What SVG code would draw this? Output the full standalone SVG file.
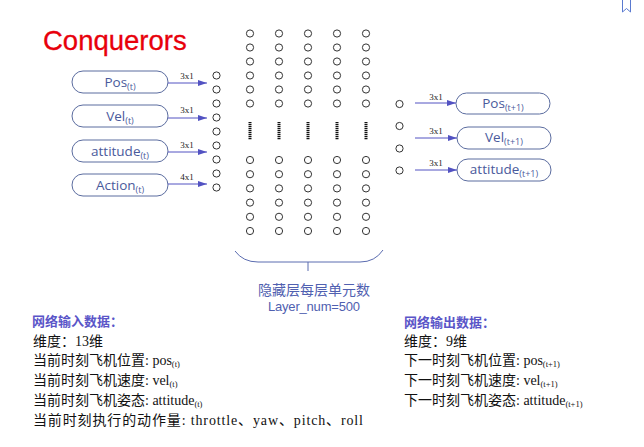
<svg xmlns="http://www.w3.org/2000/svg" width="644" height="447" viewBox="0 0 644 447">
<style>
.box{fill:#fff;stroke:#5b6c9f;stroke-width:1}
.bt{font-family:"Open Sans","Noto Sans",sans-serif;font-size:13.5px;fill:#4a5a9c;text-anchor:middle}
.sub{font-size:9px}
.arr{stroke:#5252c2;stroke-width:1;fill:none;marker-end:url(#ah)}
.dim{font-family:"Liberation Serif",serif;font-size:9px;fill:#222;text-anchor:middle}
.n{fill:#fff;stroke:#333;stroke-width:1}
.dash{stroke:#111;stroke-width:3;stroke-dasharray:1.2 0.8}
.hd{font-family:"Liberation Serif","Noto Sans CJK SC",sans-serif;font-size:13px;font-weight:bold;fill:#5a55c8}
.tx{font-family:"Liberation Serif","Noto Sans CJK SC",serif;font-size:14px;fill:#111}
.ts{font-size:8.5px}
</style>
<defs>
<marker id="ah" markerWidth="9" markerHeight="6" refX="9" refY="3" orient="auto" markerUnits="userSpaceOnUse">
<path d="M0,0 L9,3 L0,6 Z" fill="#5252c2"/>
</marker>
</defs>
<rect width="644" height="447" fill="#fff"/>
<path d="M622.5,0 V12 L626.5,8.5 L630.5,12 V0" fill="none" stroke="#5a7ad0" stroke-width="1"/>
<text x="43" y="50" font-family="Liberation Sans,Arial,sans-serif" font-size="27.5px" fill="#e8000b" stroke="#e8000b" stroke-width="0.3">Conquerors</text>

<g id="in-pos"><rect class="box" x="72" y="71" width="96" height="22" rx="11"/><text class="bt" x="120" y="87">Pos<tspan class="sub" dy="3">(t)</tspan></text></g>
<g id="in-vel"><rect class="box" x="72" y="105" width="96" height="22" rx="11"/><text class="bt" x="120" y="121">Vel<tspan class="sub" dy="3">(t)</tspan></text></g>
<g id="in-att"><rect class="box" x="72" y="140" width="96" height="22" rx="11"/><text class="bt" x="120" y="156">attitude<tspan class="sub" dy="3">(t)</tspan></text></g>
<g id="in-act"><rect class="box" x="72" y="174" width="96" height="22" rx="11"/><text class="bt" x="120" y="190">Action<tspan class="sub" dy="3">(t)</tspan></text></g>

<g id="out-pos"><rect class="box" x="456" y="93" width="94" height="21" rx="10.5"/><text class="bt" x="503" y="108">Pos<tspan class="sub" dy="3">(t+1)</tspan></text></g>
<g id="out-vel"><rect class="box" x="457" y="127" width="94" height="22" rx="11"/><text class="bt" x="504" y="142">Vel<tspan class="sub" dy="3">(t+1)</tspan></text></g>
<g id="out-att"><rect class="box" x="457" y="159" width="94" height="22" rx="11"/><text class="bt" x="504" y="174">attitude<tspan class="sub" dy="3">(t+1)</tspan></text></g>

<g id="connectors">
<line class="arr" x1="168" y1="83" x2="207" y2="83"/>
<line class="arr" x1="168" y1="118" x2="207" y2="118"/>
<line class="arr" x1="168" y1="152" x2="207" y2="152"/>
<line class="arr" x1="168" y1="184" x2="207" y2="184"/>
<line class="arr" x1="415" y1="103" x2="456" y2="103"/>
<line class="arr" x1="415" y1="138" x2="457" y2="138"/>
<line class="arr" x1="415" y1="170" x2="457" y2="170"/>
<text class="dim" x="187" y="79">3x1</text>
<text class="dim" x="187" y="113">3x1</text>
<text class="dim" x="187" y="148">3x1</text>
<text class="dim" x="187" y="180">4x1</text>
<text class="dim" x="436" y="100">3x1</text>
<text class="dim" x="436" y="134">3x1</text>
<text class="dim" x="436" y="166">3x1</text>
</g>

<g id="input-layer">
<circle class="n" cx="216.5" cy="75.5" r="3.6"/><circle class="n" cx="216.5" cy="89.5" r="3.6"/><circle class="n" cx="216.5" cy="103.5" r="3.6"/>
<circle class="n" cx="216.5" cy="117.5" r="3.6"/><circle class="n" cx="216.5" cy="131.5" r="3.6"/><circle class="n" cx="216.5" cy="145.5" r="3.6"/>
<circle class="n" cx="216.5" cy="159.5" r="3.6"/><circle class="n" cx="216.5" cy="173.5" r="3.6"/><circle class="n" cx="216.5" cy="187.5" r="3.6"/>
</g>

<g id="hidden-layers">
<g id="h1">
<circle class="n" cx="250" cy="33.5" r="3.6"/><circle class="n" cx="250" cy="47.5" r="3.6"/><circle class="n" cx="250" cy="61.5" r="3.6"/><circle class="n" cx="250" cy="75.5" r="3.6"/><circle class="n" cx="250" cy="89.5" r="3.6"/><circle class="n" cx="250" cy="103.5" r="3.6"/>
<line class="dash" x1="250" y1="122" x2="250" y2="140"/>
<circle class="n" cx="250" cy="160" r="3.6"/><circle class="n" cx="250" cy="174.2" r="3.6"/><circle class="n" cx="250" cy="188.4" r="3.6"/><circle class="n" cx="250" cy="202.6" r="3.6"/><circle class="n" cx="250" cy="216.8" r="3.6"/><circle class="n" cx="250" cy="231" r="3.6"/>
</g>
<g id="h2">
<circle class="n" cx="279" cy="33.5" r="3.6"/><circle class="n" cx="279" cy="47.5" r="3.6"/><circle class="n" cx="279" cy="61.5" r="3.6"/><circle class="n" cx="279" cy="75.5" r="3.6"/><circle class="n" cx="279" cy="89.5" r="3.6"/><circle class="n" cx="279" cy="103.5" r="3.6"/>
<line class="dash" x1="279" y1="122" x2="279" y2="140"/>
<circle class="n" cx="279" cy="160" r="3.6"/><circle class="n" cx="279" cy="174.2" r="3.6"/><circle class="n" cx="279" cy="188.4" r="3.6"/><circle class="n" cx="279" cy="202.6" r="3.6"/><circle class="n" cx="279" cy="216.8" r="3.6"/><circle class="n" cx="279" cy="231" r="3.6"/>
</g>
<g id="h3">
<circle class="n" cx="308" cy="33.5" r="3.6"/><circle class="n" cx="308" cy="47.5" r="3.6"/><circle class="n" cx="308" cy="61.5" r="3.6"/><circle class="n" cx="308" cy="75.5" r="3.6"/><circle class="n" cx="308" cy="89.5" r="3.6"/><circle class="n" cx="308" cy="103.5" r="3.6"/>
<line class="dash" x1="308" y1="122" x2="308" y2="140"/>
<circle class="n" cx="308" cy="160" r="3.6"/><circle class="n" cx="308" cy="174.2" r="3.6"/><circle class="n" cx="308" cy="188.4" r="3.6"/><circle class="n" cx="308" cy="202.6" r="3.6"/><circle class="n" cx="308" cy="216.8" r="3.6"/><circle class="n" cx="308" cy="231" r="3.6"/>
</g>
<g id="h4">
<circle class="n" cx="337" cy="33.5" r="3.6"/><circle class="n" cx="337" cy="47.5" r="3.6"/><circle class="n" cx="337" cy="61.5" r="3.6"/><circle class="n" cx="337" cy="75.5" r="3.6"/><circle class="n" cx="337" cy="89.5" r="3.6"/><circle class="n" cx="337" cy="103.5" r="3.6"/>
<line class="dash" x1="337" y1="122" x2="337" y2="140"/>
<circle class="n" cx="337" cy="160" r="3.6"/><circle class="n" cx="337" cy="174.2" r="3.6"/><circle class="n" cx="337" cy="188.4" r="3.6"/><circle class="n" cx="337" cy="202.6" r="3.6"/><circle class="n" cx="337" cy="216.8" r="3.6"/><circle class="n" cx="337" cy="231" r="3.6"/>
</g>
<g id="h5">
<circle class="n" cx="366" cy="33.5" r="3.6"/><circle class="n" cx="366" cy="47.5" r="3.6"/><circle class="n" cx="366" cy="61.5" r="3.6"/><circle class="n" cx="366" cy="75.5" r="3.6"/><circle class="n" cx="366" cy="89.5" r="3.6"/><circle class="n" cx="366" cy="103.5" r="3.6"/>
<line class="dash" x1="366" y1="122" x2="366" y2="140"/>
<circle class="n" cx="366" cy="160" r="3.6"/><circle class="n" cx="366" cy="174.2" r="3.6"/><circle class="n" cx="366" cy="188.4" r="3.6"/><circle class="n" cx="366" cy="202.6" r="3.6"/><circle class="n" cx="366" cy="216.8" r="3.6"/><circle class="n" cx="366" cy="231" r="3.6"/>
</g>
</g>

<g id="output-layer">
<circle class="n" cx="399.5" cy="104" r="3.6"/><circle class="n" cx="399.5" cy="126" r="3.6"/><circle class="n" cx="399.5" cy="148.5" r="3.6"/><circle class="n" cx="399.5" cy="170.5" r="3.6"/>
</g>

<g id="hidden-brace">
<path d="M235,251 Q243,262 258,262 L360,262 Q375,262 383,250" fill="none" stroke="#5b6cb0" stroke-width="1"/>
<line x1="308" y1="262" x2="308" y2="271" stroke="#5b6cb0" stroke-width="1"/>
<text x="314" y="295" font-family="Noto Sans CJK SC,sans-serif" font-size="14px" fill="#5060b0" text-anchor="middle">隐藏层每层单元数</text>
<text x="314" y="311" font-family="Liberation Sans,sans-serif" font-size="13px" fill="#5060b0" text-anchor="middle" textLength="92">Layer_num=500</text>
</g>

<g id="input-info">
<text class="hd" x="32" y="326">网络输入数据：</text>
<text class="tx" x="33" y="346">维度：13维</text>
<text class="tx" x="33" y="365">当前时刻飞机位置: pos<tspan class="ts" dy="2">(t)</tspan></text>
<text class="tx" x="33" y="385">当前时刻飞机速度: vel<tspan class="ts" dy="2">(t)</tspan></text>
<text class="tx" x="33" y="405">当前时刻飞机姿态: attitude<tspan class="ts" dy="2">(t)</tspan></text>
<text class="tx" x="33" y="425" textLength="330">当前时刻执行的动作量: throttle、yaw、pitch、roll</text>
</g>

<g id="output-info">
<text class="hd" x="404" y="327">网络输出数据：</text>
<text class="tx" x="404" y="346">维度：9维</text>
<text class="tx" x="404" y="365">下一时刻飞机位置: pos<tspan class="ts" dy="2">(t+1)</tspan></text>
<text class="tx" x="404" y="385">下一时刻飞机速度: vel<tspan class="ts" dy="2">(t+1)</tspan></text>
<text class="tx" x="404" y="405">下一时刻飞机姿态: attitude<tspan class="ts" dy="2">(t+1)</tspan></text>
</g>
</svg>
